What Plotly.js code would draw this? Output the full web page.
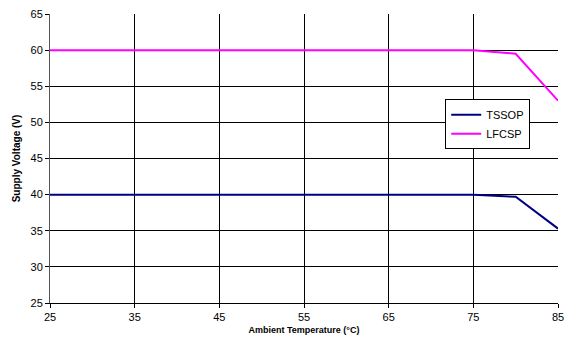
<!DOCTYPE html>
<html>
<head>
<meta charset="utf-8">
<script src="https://cdn.plot.ly/plotly-3.0.1.min.js"></script>
<style>html,body{margin:0;padding:0;background:#fff;}#chart{width:570px;height:341px;}</style>
</head>
<body>
<div id="chart"></div>
<script>
var temperature = [25, 35, 45, 55, 65, 75, 80, 85];
var tssopVoltage = [40, 40, 40, 40, 40, 40, 39.7, 35.3];
var lfcspVoltage = [60, 60, 60, 60, 60, 60, 59.5, 53.0];
var seriesNames = ["TSSOP", "LFCSP"];

var traces = [
  {x: temperature, y: tssopVoltage, name: seriesNames[0], type: "scatter", mode: "lines",
   line: {color: "#000080", width: 2}},
  {x: temperature, y: lfcspVoltage, name: seriesNames[1], type: "scatter", mode: "lines",
   line: {color: "#FF00FF", width: 2}}
];

var layout = {
  width: 570, height: 341,
  margin: {l: 50, r: 12, t: 14, b: 38},
  paper_bgcolor: "#fff", plot_bgcolor: "#fff",
  font: {family: "Liberation Sans, Arial, sans-serif", size: 11, color: "#000"},
  showlegend: true,
  legend: {x: 0.778, y: 0.705, xanchor: "left", yanchor: "top",
    bgcolor: "#fff", bordercolor: "#000", borderwidth: 1,
    font: {size: 11}, tracegroupgap: 0, itemwidth: 30},
  xaxis: {range: [25, 85], tickvals: [25, 35, 45, 55, 65, 75, 85],
    showgrid: true, gridcolor: "#000", gridwidth: 1,
    showline: true, linecolor: "#000", linewidth: 1, mirror: false,
    ticks: "outside", ticklen: 4, tickcolor: "#000", zeroline: false,
    title: {text: "<b>Ambient Temperature (°C)</b>", font: {size: 9}, standoff: 4}},
  yaxis: {range: [25, 65], tickvals: [25, 30, 35, 40, 45, 50, 55, 60, 65],
    showgrid: true, gridcolor: "#000", gridwidth: 1,
    showline: true, linecolor: "#555", linewidth: 1,
    ticks: "outside", ticklen: 4, tickcolor: "#000", zeroline: false,
    title: {text: "<b>Supply Voltage (V)</b>", font: {size: 10}, standoff: 8}}
};

Plotly.newPlot("chart", traces, layout, {displayModeBar: false, staticPlot: true});
</script>
</body>
</html>
